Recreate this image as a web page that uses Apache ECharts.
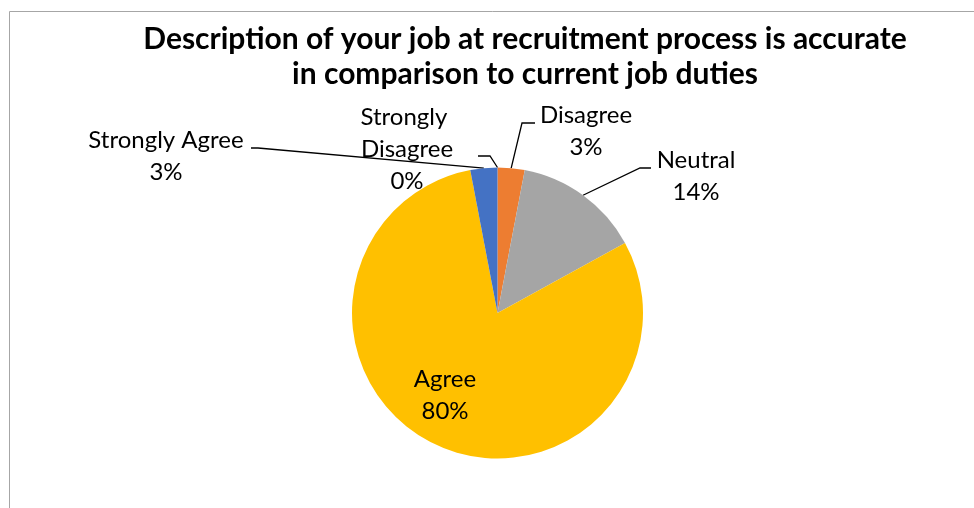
<!DOCTYPE html>
<html>
<head>
<meta charset="utf-8">
<style>
  html, body { margin: 0; padding: 0; background: #ffffff; }
  #chart { width: 974px; height: 508px; }
</style>
<script src="https://cdn.jsdelivr.net/npm/echarts@6/dist/echarts.min.js"></script>
</head>
<body>
<div id="chart"></div>
<script>
// Survey answers, in the order the slices run clockwise from 12 o'clock
const categories = ['Strongly Disagree', 'Disagree', 'Neutral', 'Agree', 'Strongly Agree'];
const percentages = [0, 3, 14, 80, 3];
const sliceColors = ['#5B9BD5', '#ED7D31', '#A5A5A5', '#FFC000', '#4472C4'];

const titleText = 'Description of your job at recruitment process is accurate\nin comparison to current job duties';

// Where each label block sits, and the elbow / end of its leader line
const labelPlacement = {
  'Strongly Disagree': { x: 407, y: 149, elbow: [490, 156], end: [478, 156] },
  'Disagree':          { x: 586, y: 131, elbow: [522, 123], end: [535, 123] },
  'Neutral':           { x: 696, y: 176, elbow: [640, 168], end: [651, 168] },
  'Agree':             { x: 445, y: 395 },
  'Strongly Agree':    { x: 166, y: 156, elbow: [258, 148], end: [251, 148] }
};

const FONT = 'Lato, "Open Sans", sans-serif';

const pieData = categories.map(function (name, i) {
  const item = { name: name, value: percentages[i], itemStyle: { color: sliceColors[i] } };
  if (name === 'Agree') {
    item.label = { position: 'inside' };
    item.labelLine = { show: false };
  }
  if (name === 'Strongly Disagree') {
    // narrow label box so the name wraps onto two lines
    item.label = { width: 110, overflow: 'break' };
  }
  return item;
});

const chart = echarts.init(document.getElementById('chart'), null, { renderer: 'canvas' });

chart.setOption({
  backgroundColor: '#ffffff',
  animation: false,
  title: {
    text: titleText,
    left: 525,
    top: 22,
    padding: 0,
    textAlign: 'center',
    textStyle: {
      fontFamily: FONT,
      fontWeight: 'bold',
      fontSize: 30,
      lineHeight: 35,
      color: '#000000'
    }
  },
  graphic: [{
    type: 'rect',
    shape: { x: 9.5, y: 11.5, width: 1100, height: 700 },
    style: { fill: null, stroke: '#A6A6A6', lineWidth: 1 },
    silent: true,
    z: -1
  }],
  series: [{
    type: 'pie',
    center: [497.5, 313],
    radius: 145.5,
    startAngle: 90,
    clockwise: true,
    avoidLabelOverlap: false,
    stillShowZeroSum: true,
    label: {
      show: true,
      position: 'outside',
      formatter: '{b}\n{c}%',
      fontFamily: FONT,
      fontSize: 24,
      lineHeight: 32,
      color: '#000000',
      align: 'center'
    },
    labelLine: {
      show: true,
      length: 10,
      length2: 10,
      lineStyle: { color: '#000000', width: 1.3 }
    },
    labelLayout: function (params) {
      const name = categories[params.dataIndex];
      const p = labelPlacement[name];
      const out = { x: p.x, y: p.y, align: 'center', verticalAlign: 'middle' };
      if (p.elbow && params.labelLinePoints) {
        const anchor = params.labelLinePoints[0];
        out.labelLinePoints = [anchor, p.elbow, p.end];
      }
      return out;
    },
    data: pieData
  }]
});
</script>
</body>
</html>
